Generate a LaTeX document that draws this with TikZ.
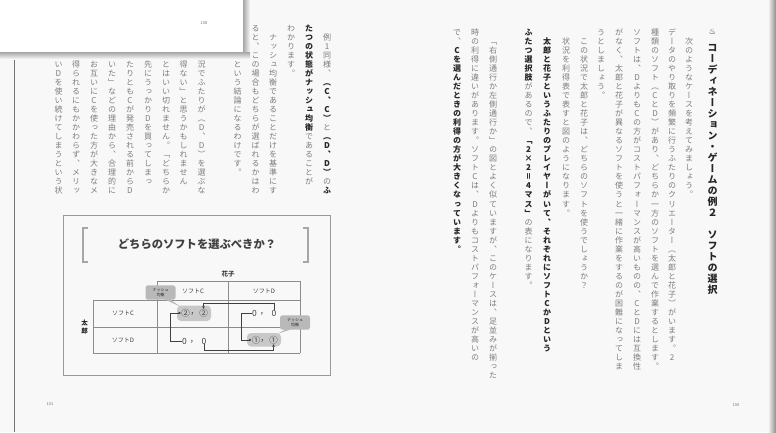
\documentclass[tikz,border=0pt]{standalone}
\usepackage{fontspec}
\usetikzlibrary{positioning,arrows.meta,shapes.callouts}
\newfontfamily\jpfont[RawFeature=+vert]{Noto Sans CJK JP}
\newfontfamily\jphfont{Noto Sans CJK JP}
\newfontfamily\symfont{DejaVu Sans}
\definecolor{pagebg}{RGB}{248,248,248}
\definecolor{bodytext}{RGB}{125,125,125}
\definecolor{boldtext}{RGB}{38,38,38}
\definecolor{hilite}{RGB}{200,200,200}
\definecolor{calloutbg}{RGB}{185,185,185}
\newcommand\bon{}
\newcommand\boff{}
\newcommand\tatecur{}
% vertical column of characters
\ExplSyntaxOn
\dim_new:N \l_tate_ht_dim
\dim_new:N \l_tate_dp_dim
\NewDocumentCommand \tate { O{8} O{9.05} m }
  {
    \vbox
      {
        \offinterlineskip
        \jpfont \fontsize {#1} {#2} \selectfont
        \dim_set:Nn \l_tate_ht_dim { \fp_eval:n { #2 * 0.5 + #1 * 0.38 } pt }
        \dim_set:Nn \l_tate_dp_dim { \fp_eval:n { #2 * 0.5 - #1 * 0.38 } pt }
        \cs_set:Npn \tatecur { \mdseries \color{bodytext} }
        \tl_map_inline:nn {#3}
          {
            \tl_if_eq:nnTF {##1} { \bon }
              { \cs_set:Npn \tatecur { \bfseries \color{boldtext} } }
              {
                \tl_if_eq:nnTF {##1} { \boff }
                  { \cs_set:Npn \tatecur { \mdseries \color{bodytext} } }
                  {
                    \hbox to #2pt
                      {
                        \tatecur
                        \vrule width \c_zero_dim height \l_tate_ht_dim depth \l_tate_dp_dim
                        \hss \smash{##1} \hss
                      }
                  }
              }
          }
      }
  }
\ExplSyntaxOff

\begin{document}
\begin{tikzpicture}[x=1pt,y=-1pt,
  tcol/.style={anchor=north,inner sep=0pt,outer sep=0pt},
  pgnum/.style={inner sep=0pt,font=\jphfont\fontsize{4}{4}\selectfont,text=black!55},
  cellhead/.style={inner sep=0pt,font=\jphfont\fontsize{6}{7}\selectfont,text=black!75},
  payoff/.style={inner sep=0pt,font=\jphfont\fontsize{8.5}{9}\selectfont,text=black!75},
  tabline/.style={draw=black!45,line width=0.6pt},
  nashbox/.style={rectangle callout,fill=calloutbg,rounded corners=2.5pt,inner xsep=7pt,inner ysep=3.2pt,
    align=center,callout pointer width=5pt,font=\jphfont\fontsize{4}{4.6}\selectfont,text=black!85},
  brarrow/.style={-{Triangle[length=2.5pt,width=2.5pt]},draw=black!75,line width=0.6pt}]
\useasboundingbox (0,0) rectangle (776,432);
\fill[pagebg] (0,0) rectangle (776,432);
\shade[left color=pagebg,right color=black!45] (768,0) rectangle (776,432);
\draw[black!55,line width=0.7pt] (14.5,50) -- (14.5,432);

% right page
\node[inner sep=0pt,font=\symfont\fontsize{8}{8}\selectfont,text=boldtext] (icon) at (712.5,32) {♨};
\node[tcol] (r0) at (712.5,42) {\tate[10][11]{\bon コーディネーション・ゲームの例２　ソフトの選択}};
\node[tcol] (r1) at (689,27.5) {\tate{　次のようなケースを考えてみましょう。}};
\node[tcol] (r2) at (672,27.5) {\tate{データのやり取りを頻繁に行うふたりのクリエーター（太郎と花子）がいます。2}};
\node[tcol] (r3) at (655,27.5) {\tate{種類のソフト（CとD）があり、どちらか一方のソフトを選んで作業するとします。}};
\node[tcol] (r4) at (637,27.5) {\tate{ソフトは、DよりもCの方がコストパフォーマンスが高いものの、CとDには互換性}};
\node[tcol] (r5) at (619,27.5) {\tate{がなく、太郎と花子が異なるソフトを使うと一緒に作業をするのが困難になってしま}};
\node[tcol] (r6) at (601,27.5) {\tate{うとしましょう。}};
\node[tcol] (r7) at (584,27.5) {\tate{　この状況で太郎と花子は、どちらのソフトを使うでしょうか？}};
\node[tcol] (r8) at (566,27.5) {\tate{　状況を利得表で表すと図のようになります。}};
\node[tcol] (r9) at (547,27.5) {\tate{\bon 　太郎と花子というふたりのプレイヤーがいて、それぞれにソフトCかDという}};
\node[tcol] (r10) at (528.5,27.5) {\tate{\bon ふたつ選択肢\boff があるので、\bon 「2×2＝4マス」\boff の表になります。}};
\node[tcol] (r11) at (493,27.5) {\tate{　「右側通行か左側通行か」の図とよく似ていますが、このケースは、足並みが揃った}};
\node[tcol] (r12) at (475,27.5) {\tate{時の利得に違いがあります。ソフトCは、Dよりもコストパフォーマンスが高いの}};
\node[tcol] (r13) at (457,27.5) {\tate{で、\bon Cを選んだときの利得の方が大きくなっています。}};
\node[pgnum] (pgr) at (736,405) {100};

% left page
\node[tcol] (l0) at (327,23.5) {\tate{　例1同様、\bon （C、C）\boff と\bon （D、D）\boff の\bon ふ}};
\node[tcol] (l1) at (309,23.5) {\tate{\bon たつの状態がナッシュ均衡\boff であることが}};
\node[tcol] (l2) at (291,23.5) {\tate{わかります。}};
\node[tcol] (l3) at (273,23.5) {\tate{　ナッシュ均衡であることだけを基準にす}};
\node[tcol] (l4) at (255.5,23.5) {\tate{ると、この場合もどちらが選ばれるかはわ}};
\node[tcol] (l5) at (237.5,59.7) {\tate{という結論になるわけです。}};
\node[tcol] (l7) at (201.5,59.7) {\tate{況でふたりが（D、D）を選ぶな}};
\node[tcol] (l8) at (183.5,59.7) {\tate{得ない」と思うかもしれません}};
\node[tcol] (l9) at (166,59.7) {\tate{とはいい切れません。「どちらか}};
\node[tcol] (l10) at (148,59.7) {\tate{先にうっかりDを買ってしまっ}};
\node[tcol] (l11) at (130,59.7) {\tate{たりともCが発売される前からD}};
\node[tcol] (l12) at (112,59.7) {\tate{いた」などの理由から、合理的に}};
\node[tcol] (l13) at (94,59.7) {\tate{お互いにCを使った方が大きなメ}};
\node[tcol] (l14) at (76,59.7) {\tate{得られるにもかかわらず、メリッ}};
\node[tcol] (l15) at (58.5,59.7) {\tate{いDを使い続けてしまうという状}};
\node[pgnum] (pgl) at (50,404) {101};

% figure
\draw[draw=black!40,line width=0.8pt] (63,215) rectangle (330,375);
\node[font=\jphfont\bfseries\fontsize{11.3}{12}\selectfont,text=black!75] (title) at (197,244) {どちらのソフトを選ぶべきか？};
\draw[black!35,line width=1.3pt] (88,228) -| (83,262) -- (88,262);
\draw[black!35,line width=1.3pt] (303,228) -| (308,262) -- (303,262);
\node[cellhead,font=\jphfont\bfseries\fontsize{6.5}{7}\selectfont] (hanako) at (228,274.5) {花子};
\node[inner sep=0pt] (taro) at (84.5,327) {\tate[6.5][7.5]{\bon 太郎}};

\draw[tabline] (157,281) -- (300,281);
\foreach \y in {300,327,353} \draw[tabline] (93,\y) -- (300,\y);
\draw[tabline] (93,300) -- (93,353);
\foreach \x in {157,228,300} \draw[tabline] (\x,281) -- (\x,353);
\node[cellhead] (hc) at (193,291) {ソフトC};
\node[cellhead] (hd) at (264,291) {ソフトD};
\node[cellhead] (rc) at (123,313.5) {ソフトC};
\node[cellhead] (rd) at (123,340.5) {ソフトD};

\fill[hilite,rounded corners=4pt] (177,305.5) rectangle (211,321);
\fill[hilite,rounded corners=4pt] (247,333) rectangle (281,346.5);
\node[payoff] (cc1) at (185.5,313) {②};
\node[payoff] (ccm) at (194.5,313.5) {，};
\node[payoff] (cc2) at (203.5,313) {②};
\node[payoff] (cd1) at (254.5,313) {0};
\node[payoff] (cdm) at (264,313.5) {，};
\node[payoff] (cd2) at (274,313) {0};
\node[payoff] (dc1) at (184.5,341) {0};
\node[payoff] (dcm) at (194,341.5) {，};
\node[payoff] (dc2) at (204,341) {0};
\node[payoff] (dd1) at (256,340) {①};
\node[payoff] (ddm) at (264.5,340.5) {，};
\node[payoff] (dd2) at (273.5,340) {①};

\draw[brarrow] (dc1.west) -- ++(-12,0) |- (cc1.west);
\draw[brarrow] (cd1.west) -- ++(-11,0) |- (dd1.west);
\draw[brarrow] (cd2.north) -- ++(0,-6.5) -| (cc2.north);
\draw[brarrow] (dc2.south) -- ++(0,5.5) -| (dd2.south);

\node[nashbox,callout absolute pointer={(181,307)}] (nash1) at (160.5,292.5) {ナッシュ\\均衡};
\node[nashbox,callout absolute pointer={(277,334)}] (nash2) at (295,322.5) {ナッシュ\\均衡};

% sheet lying on top
\shade[left color=black!35,right color=pagebg] (243,0) rectangle (250,58);
\shade[top color=black!35,bottom color=pagebg] (0,52) rectangle (250,59);
\fill[white] (0,0) rectangle (243,52);
\node[pgnum] (pgo) at (204,23) {108};
\end{tikzpicture}
\end{document}
